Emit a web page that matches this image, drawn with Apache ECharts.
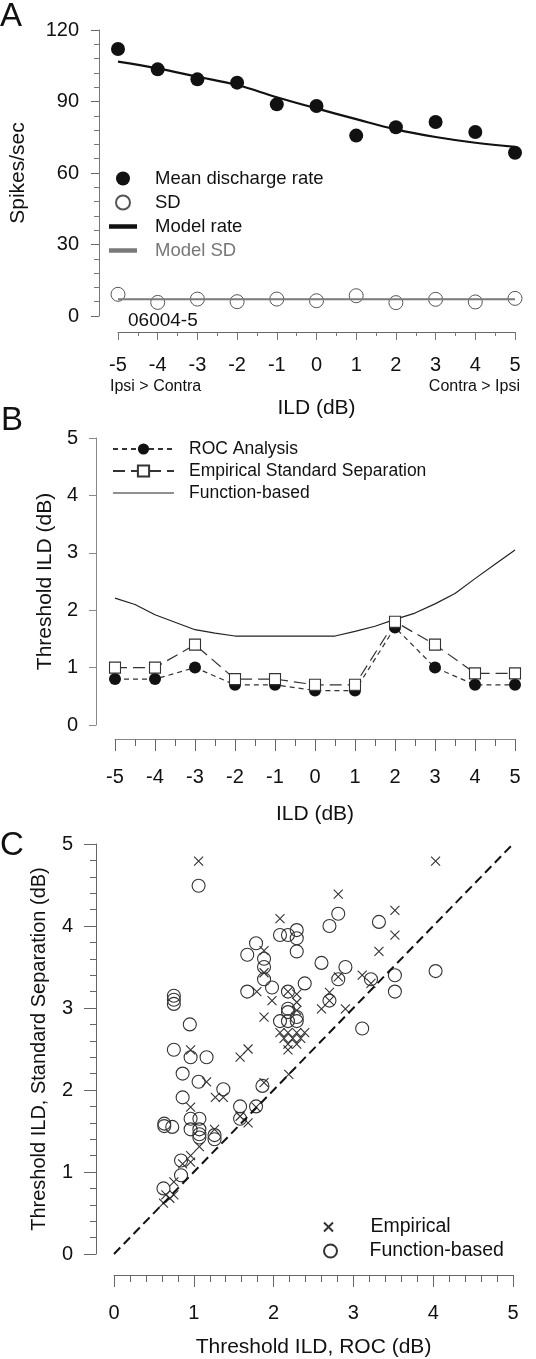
<!DOCTYPE html>
<html><head><meta charset="utf-8">
<script src="https://cdn.jsdelivr.net/npm/echarts@6/dist/echarts.min.js"></script>
<style>html,body{margin:0;padding:0;background:#fff}#c{width:536px;height:1359px}</style>
</head><body><div id="c"></div>
<script>
// ---------- Panel A ----------
const ildLevels = [-5, -4, -3, -2, -1, 0, 1, 2, 3, 4, 5];
const meanRate  = [112.0, 103.5, 99.3, 97.9, 88.8, 88.1, 75.7, 79.2, 81.4, 77.2, 68.5];
const sdRate    = [9.1, 5.7, 7.1, 6.0, 7.1, 6.4, 8.5, 5.6, 7.0, 5.9, 7.4];
const modelRate = [106.7, 103.9, 100.4, 96.9, 91.8, 87.1, 82.6, 78.3, 75.1, 72.7, 71.0];
const modelSD   = [7.0, 7.0, 7.0, 7.0, 7.0, 7.0, 7.0, 7.0, 7.0, 7.0, 7.0];
// ---------- Panel B ----------
const rocThreshold = [0.8, 0.8, 1.0, 0.7, 0.7, 0.6, 0.6, 1.7, 1.0, 0.7, 0.7];
const essThreshold = [1.0, 1.0, 1.4, 0.8, 0.8, 0.7, 0.7, 1.8, 1.4, 0.9, 0.9];
const fnILD       = [-5, -4.5, -4, -3.5, -3, -2.5, -2, -1.5, -1, -0.5, 0, 0.5, 1, 1.5, 2, 2.5, 3, 3.5, 4, 4.5, 5];
const fnThreshold = [2.21, 2.10, 1.92, 1.79, 1.66, 1.60, 1.55, 1.55, 1.55, 1.55, 1.55, 1.55, 1.63, 1.72, 1.84, 1.95, 2.11, 2.29, 2.55, 2.80, 3.05];
// ---------- Panel C : [ROC threshold, standard separation threshold] ----------
const empiricalPts = [
  [1.06,4.79],[4.03,4.79],[2.81,4.39],[3.52,4.19],[2.08,4.09],[3.52,3.89],[1.88,3.70],[3.32,3.69],
  [1.88,3.43],[2.81,3.38],[3.11,3.40],[3.22,3.30],[1.79,3.20],[2.18,3.20],[2.70,3.19],[2.29,3.17],
  [1.98,3.09],[2.70,3.09],[2.29,3.07],[2.60,2.99],[2.90,2.99],[2.29,2.97],[1.88,2.89],
  [2.08,2.70],[2.18,2.70],[2.29,2.70],[2.39,2.70],[2.13,2.63],[2.24,2.63],[2.34,2.63],[2.18,2.56],
  [2.29,2.56],[2.18,2.49],[0.96,2.49],[1.58,2.40],[1.68,2.50],[2.19,2.19],[1.16,2.10],[1.88,2.09],
  [1.27,1.91],[1.37,1.91],[0.96,1.79],[1.78,1.79],[1.58,1.68],[1.68,1.60],[1.26,1.52],[1.07,1.31],
  [0.96,1.20],[0.86,1.10],[0.96,1.12],[0.75,0.88],[0.75,0.72],[0.65,0.72],[0.62,0.62],[0.70,0.68]
];
const functionPts = [
  [1.06,4.49],[0.75,3.15],[0.75,3.10],[0.75,3.05],[0.95,2.80],[0.75,2.49],[0.96,2.40],[1.16,2.40],
  [0.86,2.20],[1.06,2.10],[1.37,2.01],[0.86,1.91],[0.63,1.59],[0.63,1.56],[0.73,1.55],[0.96,1.65],
  [1.07,1.65],[0.96,1.52],[1.07,1.52],[1.07,1.46],[1.07,1.42],[1.26,1.45],[1.26,1.40],[0.84,1.14],
  [0.84,0.96],[0.62,0.80],[1.58,1.80],[1.58,1.65],[1.78,1.80],[1.86,2.05],[1.78,3.79],[1.67,3.65],
  [1.88,3.60],[1.88,3.50],[1.88,3.35],[1.98,3.25],[1.67,3.20],[2.08,3.89],[2.18,3.89],[2.29,3.95],
  [2.29,3.85],[2.29,3.69],[2.39,3.30],[2.18,3.20],[2.18,2.99],[2.18,2.95],[2.08,2.84],[2.18,2.84],
  [2.29,2.89],[2.29,2.84],[2.60,3.55],[2.70,4.00],[2.81,4.15],[2.90,3.50],[2.81,3.35],[2.70,3.09],
  [3.11,2.75],[3.22,3.35],[3.32,4.05],[3.52,3.40],[3.52,3.20],[4.03,3.45]
];
const unityLine = [[0, 0], [5, 5]];

const zip = (xs, ys) => xs.map((x, i) => [x, ys[i]]);
const FONT = 'Liberation Sans, Arial, Helvetica, sans-serif';
const TXT = '#111';

function xAx(grid, opt) {
  return Object.assign({
    gridIndex: grid, type: 'value', splitLine: { show: false },
    axisLine: { onZero: false, lineStyle: { color: '#666', width: 1 } },
    axisTick: { length: 12, lineStyle: { color: '#666' } },
    minorTick: { show: true, splitNumber: 2, length: 7, lineStyle: { color: '#666' } },
    axisLabel: { color: TXT, fontSize: 20, fontFamily: FONT, margin: 28 },
    nameLocation: 'middle',
    nameTextStyle: { color: TXT, fontSize: 21, fontFamily: FONT }
  }, opt);
}
function yAx(grid, opt) {
  return Object.assign({
    gridIndex: grid, type: 'value', splitLine: { show: false },
    axisLine: { onZero: false, lineStyle: { color: '#666', width: 1 } },
    axisTick: { length: 8, lineStyle: { color: '#666' } },
    minorTick: { show: false },
    axisLabel: { color: TXT, fontSize: 20, fontFamily: FONT, margin: 20 },
    nameLocation: 'middle',
    nameTextStyle: { color: TXT, fontSize: 21, fontFamily: FONT }
  }, opt);
}

const chart = echarts.init(document.getElementById('c'), null, { renderer: 'canvas' });
const option = {
  animation: false,
  backgroundColor: '#fff',
  textStyle: { fontFamily: FONT },
  grid: [
    { left: 116, right: 21, top: 30, height: 286 },
    { left: 115, right: 21, top: 438, height: 287 },
    { left: 114, right: 23, top: 844, height: 410 }
  ],
  xAxis: [
    xAx(0, { min: -5, max: 5, interval: 1, offset: 16,
      axisTick: { length: 8, lineStyle: { color: '#777' } },
      minorTick: { show: true, splitNumber: 2, length: 4, lineStyle: { color: '#777' } },
      axisLabel: { color: TXT, fontSize: 20, fontFamily: FONT, margin: 23 },
      name: 'ILD (dB)', nameGap: 66 }),
    xAx(1, { min: -5, max: 5, interval: 1, offset: 14, name: 'ILD (dB)', nameGap: 65,
      axisLine: { onZero: false, lineStyle: { color: '#888' } } }),
    xAx(2, { min: 0, max: 5, interval: 1, offset: 21, name: 'Threshold ILD, ROC (dB)', nameGap: 62,
      minorTick: { show: true, splitNumber: 5, length: 7, lineStyle: { color: '#666' } } })
  ],
  yAxis: [
    yAx(0, { min: 0, max: 120, interval: 30, offset: 19, name: 'Spikes/sec', nameGap: 70,
      axisLine: { onZero: false, lineStyle: { color: '#777' } },
      minorTick: { show: true, splitNumber: 5, length: 5, lineStyle: { color: '#777' } } }),
    yAx(1, { min: 0, max: 5, interval: 1, offset: 19, name: 'Threshold ILD (dB)', nameGap: 40,
      axisLine: { onZero: false, lineStyle: { color: '#888' } },
      axisTick: { length: 7, lineStyle: { color: '#888' } },
      axisLabel: { color: TXT, fontSize: 20, fontFamily: FONT, margin: 18 } }),
    yAx(2, { min: 0, max: 5, interval: 1, offset: 18, name: 'Threshold ILD, Standard Separation (dB)', nameGap: 47,
      nameTextStyle: { color: TXT, fontSize: 20, fontFamily: FONT },
      axisTick: { length: 12, lineStyle: { color: '#666' } },
      minorTick: { show: true, splitNumber: 5, length: 6, lineStyle: { color: '#666' } },
      axisLabel: { color: TXT, fontSize: 20, fontFamily: FONT, margin: 23 } })
  ],
  legend: [
    { // panel A
      orient: 'vertical', left: 109, top: 169, padding: 0, itemGap: 5, itemWidth: 28, itemHeight: 14,
      selectedMode: false,
      textStyle: { color: TXT, fontSize: 18.5, fontFamily: FONT, padding: [0, 0, 0, 13] },
      data: [
        { name: 'Mean discharge rate' },
        { name: 'SD' },
        { name: 'Model rate', icon: 'path://M0,0h28v4.5h-28z' },
        { name: 'Model SD', icon: 'path://M0,0h28v4.5h-28z', textStyle: { color: '#777' } }
      ]
    },
    { // panel B
      orient: 'vertical', left: 112, top: 440, padding: 0, itemGap: 4, itemWidth: 61, itemHeight: 14,
      selectedMode: false,
      textStyle: { color: TXT, fontSize: 17.5, fontFamily: FONT, padding: [0, 0, 0, 10] },
      data: ['ROC Analysis', 'Empirical Standard Separation',
        { name: 'Function-based', icon: 'path://M0,0h61v1.2h-61z' }]
    },
    { // panel C, crosses
      orient: 'vertical', left: 323, top: 1217, padding: 0, itemWidth: 26, itemHeight: 9,
      selectedMode: false,
      textStyle: { color: TXT, fontSize: 19.5, fontFamily: FONT, padding: [0, 0, 0, 24] },
      data: ['Empirical']
    },
    { // panel C, circles
      orient: 'vertical', left: 323, top: 1241, padding: 0, itemWidth: 26, itemHeight: 13,
      selectedMode: false,
      formatter: n => n.replace(' (C)', ''),
      textStyle: { color: TXT, fontSize: 19.5, fontFamily: FONT, padding: [0, 0, 0, 21] },
      data: ['Function-based (C)']
    }
  ],
  graphic: [
    { type: 'text', style: { x: 0, y: 17, text: 'A', fontSize: 33, fontFamily: FONT, fill: TXT, verticalAlign: 'middle' } },
    { type: 'text', style: { x: 1, y: 421, text: 'B', fontSize: 33, fontFamily: FONT, fill: TXT, verticalAlign: 'middle' } },
    { type: 'text', style: { x: 0, y: 846, text: 'C', fontSize: 33, fontFamily: FONT, fill: TXT, verticalAlign: 'middle' } },
    { type: 'text', style: { x: 128, y: 321, text: '06004-5', fontSize: 19, fontFamily: FONT, fill: TXT, verticalAlign: 'middle' } },
    { type: 'text', style: { x: 110, y: 387, text: 'Ipsi > Contra', fontSize: 16, fontFamily: FONT, fill: TXT, verticalAlign: 'middle' } },
    { type: 'text', style: { x: 520, y: 387, text: 'Contra > Ipsi', fontSize: 16, fontFamily: FONT, fill: TXT, verticalAlign: 'middle', align: 'right' } }
  ],
  series: [
    // Panel A
    { name: 'Model rate', type: 'line', xAxisIndex: 0, yAxisIndex: 0, smooth: 0.4, showSymbol: false, symbol: 'none',
      data: zip(ildLevels, modelRate), itemStyle: { color: '#111' }, lineStyle: { color: '#111', width: 2.2 } },
    { name: 'Model SD', type: 'line', xAxisIndex: 0, yAxisIndex: 0, showSymbol: false, symbol: 'none',
      data: zip(ildLevels, modelSD), itemStyle: { color: '#7a7a7a' }, lineStyle: { color: '#7a7a7a', width: 2 } },
    { name: 'Mean discharge rate', type: 'scatter', xAxisIndex: 0, yAxisIndex: 0, symbol: 'circle', symbolSize: 14,
      data: zip(ildLevels, meanRate), itemStyle: { color: '#111', opacity: 1 } },
    { name: 'SD', type: 'scatter', xAxisIndex: 0, yAxisIndex: 0, symbol: 'circle', symbolSize: 14,
      data: zip(ildLevels, sdRate), itemStyle: { color: '#fff', borderColor: '#555', borderWidth: 1, opacity: 1 } },
    // Panel B
    { name: 'Function-based', type: 'line', xAxisIndex: 1, yAxisIndex: 1, showSymbol: false, symbol: 'none',
      data: zip(fnILD, fnThreshold), itemStyle: { color: '#222' }, lineStyle: { color: '#222', width: 1.2 } },
    { name: 'ROC Analysis', type: 'line', xAxisIndex: 1, yAxisIndex: 1, symbol: 'circle', symbolSize: 12,
      data: zip(ildLevels, rocThreshold), itemStyle: { color: '#111' },
      lineStyle: { color: '#333', width: 1.2, type: [5, 4] } },
    { name: 'Empirical Standard Separation', type: 'line', xAxisIndex: 1, yAxisIndex: 1, symbol: 'rect', symbolSize: 11,
      data: zip(ildLevels, essThreshold), itemStyle: { color: '#fff', borderColor: '#333', borderWidth: 1.1 },
      lineStyle: { color: '#333', width: 1.2, type: [12, 6] } },
    // Panel C
    { name: 'unity', type: 'line', xAxisIndex: 2, yAxisIndex: 2, showSymbol: false, symbol: 'none', silent: true,
      data: unityLine, lineStyle: { color: '#111', width: 2, type: [9, 5] } },
    { name: 'Empirical', type: 'scatter', xAxisIndex: 2, yAxisIndex: 2, symbol: 'path://M0,0L10,10M10,0L0,10', symbolSize: 9,
      data: empiricalPts, itemStyle: { color: 'rgba(0,0,0,0)', borderColor: '#333', borderWidth: 1.1, opacity: 1 } },
    { name: 'Function-based (C)', type: 'scatter', xAxisIndex: 2, yAxisIndex: 2, symbol: 'circle', symbolSize: 13,
      data: functionPts, itemStyle: { color: 'rgba(0,0,0,0)', borderColor: '#333', borderWidth: 1.1, opacity: 1 } }
  ]
};
chart.setOption(option);
</script></body></html>
